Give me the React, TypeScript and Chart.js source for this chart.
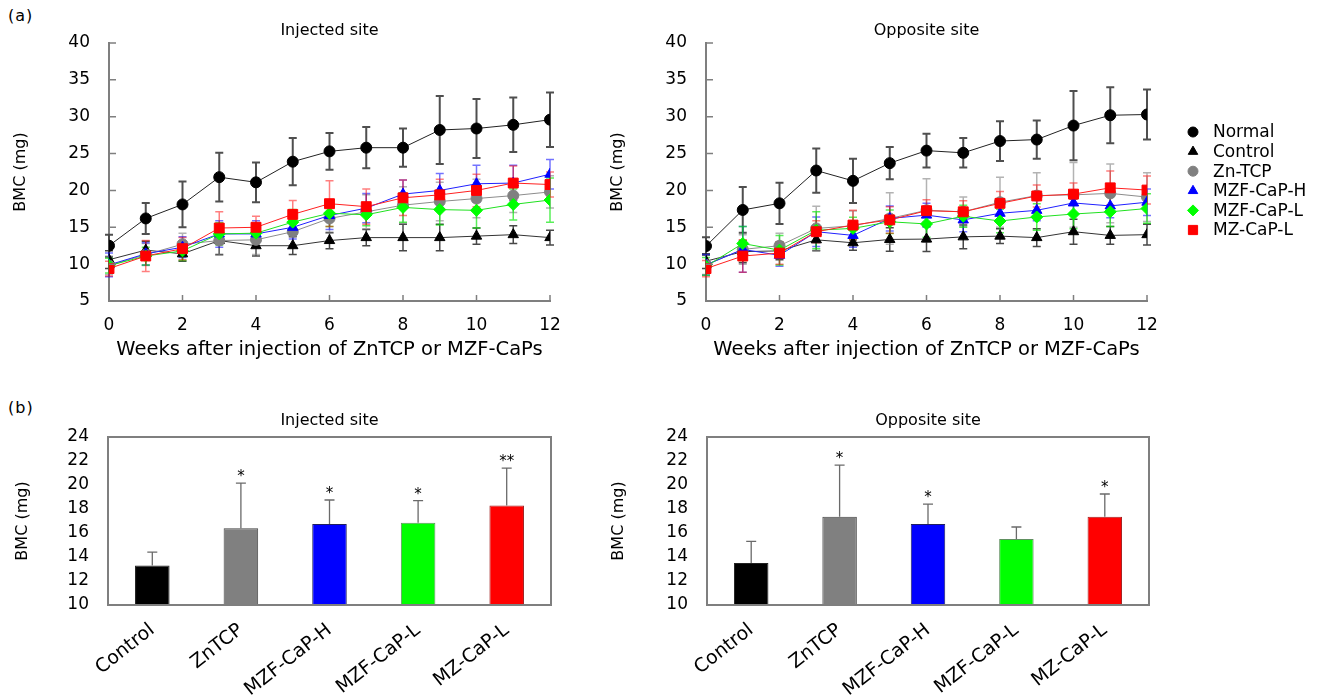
import React, { useEffect, useRef } from 'react';
import { Chart, registerables } from 'chart.js';
import { drawPoint } from 'chart.js/helpers';

Chart.register(...registerables);

const FONT = "'DejaVu Sans', sans-serif";
Chart.defaults.font.family = FONT;
Chart.defaults.color = '#000';

// ---------- data ----------
const weeks = [0, 1, 2, 3, 4, 5, 6, 7, 8, 9, 10, 11, 12];
const xTitle = 'Weeks after injection of ZnTCP or MZF-CaPs';
const yTitle = 'BMC (mg)';

const seriesNames = ['Normal', 'Control', 'Zn-TCP', 'MZF-CaP-H', 'MZF-CaP-L', 'MZ-CaP-L'];

// Injected site
const injNormal = [12.5, 16.2, 18.1, 21.8, 21.1, 23.9, 25.3, 25.8, 25.8, 28.2, 28.4, 28.9, 29.6];
const injNormalErr = [1.5, 2.1, 3.1, 3.3, 2.7, 3.2, 2.5, 2.8, 2.6, 4.6, 4.0, 3.7, 3.7];
const injControl = [10.6, 11.9, 11.4, 13.2, 12.5, 12.5, 13.2, 13.6, 13.6, 13.6, 13.8, 14.0, 13.6];
const injControlErr = [1.2, 1.2, 1.0, 1.9, 1.4, 1.2, 1.1, 1.1, 1.8, 1.8, 1.1, 1.2, 1.0];
const injZnTCP = [9.8, 11.3, 12.7, 13.2, 13.3, 14.4, 16.2, 17.1, 18.0, 18.5, 18.9, 19.3, 19.8];
const injZnTCPErr = [1.2, 1.5, 1.5, 2.0, 2.0, 1.8, 2.0, 2.3, 2.5, 2.6, 2.6, 2.3, 2.2];
const injMZFH = [9.9, 11.4, 12.3, 14.1, 14.1, 15.0, 16.6, 17.6, 19.5, 20.0, 20.9, 21.0, 22.2];
const injMZFHErr = [1.6, 1.5, 1.4, 1.8, 1.8, 1.6, 1.9, 2.0, 1.9, 2.3, 2.5, 2.4, 2.0];
const injMZFL = [9.8, 11.1, 11.8, 14.1, 14.2, 15.7, 16.9, 16.7, 17.7, 17.4, 17.3, 18.1, 18.7];
const injMZFLErr = [1.0, 1.2, 1.3, 1.5, 1.3, 1.7, 1.8, 1.5, 2.0, 2.1, 2.4, 2.1, 3.0];
const injMZL = [9.4, 11.1, 12.1, 14.9, 15.0, 16.75, 18.2, 17.8, 19.0, 19.4, 20.0, 21.0, 20.8];
const injMZLErr = [1.0, 2.1, 1.5, 2.2, 1.5, 1.9, 3.1, 2.4, 2.4, 2.1, 2.2, 2.3, 1.7];

// Opposite site
const oppNormal = [12.45, 17.35, 18.25, 22.7, 21.3, 23.7, 25.4, 25.1, 26.7, 26.9, 28.8, 30.2, 30.3];
const oppNormalErr = [1.2, 3.1, 2.8, 3.0, 3.0, 2.2, 2.3, 2.0, 2.7, 2.6, 4.7, 3.8, 3.4];
const oppControl = [10.4, 11.7, 11.8, 13.3, 12.9, 13.35, 13.4, 13.7, 13.8, 13.6, 14.4, 13.9, 14.0];
const oppControlErr = [1.0, 1.5, 1.2, 1.5, 1.0, 1.6, 1.7, 1.6, 1.0, 1.2, 1.7, 1.2, 1.4];
const oppZnTCP = [9.9, 12.0, 12.5, 14.85, 15.2, 16.2, 17.3, 17.1, 18.4, 19.3, 19.4, 19.6, 19.1];
const oppZnTCPErr = [1.3, 2.0, 1.7, 3.0, 2.0, 3.5, 4.3, 2.0, 3.4, 3.1, 4.4, 4.0, 3.3];
const oppMZFH = [9.9, 12.0, 11.2, 14.4, 13.9, 16.2, 16.65, 16.0, 16.9, 17.3, 18.3, 17.9, 18.4];
const oppMZFHErr = [1.4, 3.1, 1.5, 2.0, 1.6, 1.7, 1.6, 1.6, 1.3, 1.4, 1.6, 1.6, 1.8];
const oppMZFL = [9.7, 12.8, 11.9, 14.6, 14.85, 15.75, 15.45, 16.5, 15.85, 16.4, 16.8, 17.1, 17.55];
const oppMZFLErr = [1.2, 2.3, 2.0, 2.5, 1.5, 1.6, 1.8, 1.5, 1.6, 1.8, 2.0, 2.0, 2.0];
const oppMZL = [9.4, 11.1, 11.5, 14.4, 15.3, 16.0, 17.25, 17.1, 18.25, 19.25, 19.5, 20.35, 20.05];
const oppMZLErr = [1.1, 2.2, 1.5, 1.5, 2.0, 1.8, 1.5, 1.5, 1.6, 1.5, 1.5, 2.3, 1.9];

// Bars (b)
const barGroups = ['Control', 'ZnTCP', 'MZF-CaP-H', 'MZF-CaP-L', 'MZ-CaP-L'];
const injBar = [13.3, 16.4, 16.75, 16.85, 18.3];
const injBarErr = [1.1, 3.75, 2.0, 1.85, 3.1];
const injStars = ['', '*', '*', '*', '**'];
const oppBar = [13.5, 17.35, 16.75, 15.5, 17.35];
const oppBarErr = [1.8, 4.3, 1.65, 1.0, 1.9];
const oppStars = ['', '*', '*', '', '*'];

// ---------- styles ----------
const markerColors = ['#000000', '#000000', '#808080', '#0000ff', '#00ff00', '#ff0000'];
const lineColors = ['#222222', '#333333', '#8c8c8c', '#2020ff', '#20e020', '#ff2020'];
const errColors = ['rgba(70,70,70,0.95)', 'rgba(40,40,40,0.85)', 'rgba(128,128,128,0.6)', 'rgba(0,0,255,0.55)', 'rgba(0,230,0,0.65)', 'rgba(255,0,0,0.5)'];
const pointStyles = ['circle', 'triangle', 'circle', 'triangle', 'rectRot', 'rect'];
const pointRadii = [5.5, 6, 5.5, 6, 6, 7];
const barColors = ['#000000', '#808080', '#0000ff', '#00ff00', '#ff0000'];
const barBorders = ['#222222', '#444444', '#202060', '#609060', '#a02020'];
const AXIS = '#7f7f7f';

// ---------- plugins ----------
const lineErrorPlugin = {
  id: 'lineErrors',
  beforeDatasetsDraw(chart: any) {
    const ctx = chart.ctx;
    const ys = chart.scales.y;
    chart.data.datasets.forEach((ds: any, i: number) => {
      if (!ds.errors) return;
      const meta = chart.getDatasetMeta(i);
      ctx.save();
      ctx.strokeStyle = ds.errColor;
      ctx.lineWidth = ds.errWidth || 1.5;
      meta.data.forEach((pt: any, j: number) => {
        const v = ds.data[j].y;
        const e = ds.errors[j];
        const yt = ys.getPixelForValue(v + e);
        const yb = ys.getPixelForValue(v - e);
        const x = pt.x;
        ctx.beginPath();
        ctx.moveTo(x, yt);
        ctx.lineTo(x, yb);
        ctx.moveTo(x - 4, yt);
        ctx.lineTo(x + 4, yt);
        ctx.moveTo(x - 4, yb);
        ctx.lineTo(x + 4, yb);
        ctx.stroke();
      });
      ctx.restore();
    });
  },
};

const inwardTicksPlugin = {
  id: 'inwardTicks',
  afterDraw(chart: any) {
    const { ctx, chartArea } = chart;
    const xs = chart.scales.x;
    const ys = chart.scales.y;
    ctx.save();
    ctx.strokeStyle = AXIS;
    ctx.lineWidth = 1.5;
    ctx.beginPath();
    xs.ticks.forEach((t: any) => {
      const px = xs.getPixelForValue(t.value);
      ctx.moveTo(px, chartArea.bottom);
      ctx.lineTo(px, chartArea.bottom - 6);
    });
    ys.ticks.forEach((t: any) => {
      const py = ys.getPixelForValue(t.value);
      ctx.moveTo(chartArea.left, py);
      ctx.lineTo(chartArea.left + 7, py);
    });
    ctx.stroke();
    ctx.restore();
  },
};

const legendPlugin = {
  id: 'sideLegend',
  afterDraw(chart: any) {
    const opts = chart.options.plugins.sideLegend;
    if (!opts || !opts.display) return;
    const { ctx, chartArea } = chart;
    const x0 = chartArea.right + opts.offsetX;
    ctx.save();
    chart.data.datasets
      .slice()
      .sort((a: any, b: any) => a.legendIndex - b.legendIndex)
      .forEach((ds: any, k: number) => {
        const y = opts.top + k * opts.rowGap;
        ctx.fillStyle = ds.pointBackgroundColor;
        ctx.strokeStyle = ds.pointBackgroundColor;
        drawPoint(ctx, { pointStyle: ds.pointStyle, radius: ds.pointRadius - 0.5, rotation: 0, borderWidth: 1 } as any, x0, y);
        ctx.fillStyle = '#000';
        ctx.font = `17px ${FONT}`;
        ctx.textBaseline = 'middle';
        ctx.textAlign = 'left';
        ctx.fillText(ds.label, x0 + 20, y + 1);
      });
    ctx.restore();
  },
};

const barExtrasPlugin = {
  id: 'barExtras',
  afterDatasetsDraw(chart: any) {
    const { ctx, chartArea } = chart;
    const ys = chart.scales.y;
    const ds: any = chart.data.datasets[0];
    const meta = chart.getDatasetMeta(0);
    ctx.save();
    ctx.strokeStyle = '#6a6a6a';
    ctx.lineWidth = 1.3;
    meta.data.forEach((bar: any, j: number) => {
      const v = ds.data[j];
      const e = ds.errors[j];
      const yt = ys.getPixelForValue(v + e);
      const yb = ys.getPixelForValue(v);
      ctx.beginPath();
      ctx.moveTo(bar.x, yb);
      ctx.lineTo(bar.x, yt);
      ctx.moveTo(bar.x - 5, yt);
      ctx.lineTo(bar.x + 5, yt);
      ctx.stroke();
      if (ds.stars[j]) {
        ctx.fillStyle = '#000';
        ctx.font = `15px ${FONT}`;
        ctx.textAlign = 'center';
        ctx.textBaseline = 'alphabetic';
        ctx.fillText(ds.stars[j], bar.x, yt - 2);
      }
    });
    ctx.strokeStyle = AXIS;
    ctx.lineWidth = 2;
    ctx.strokeRect(chartArea.left, chartArea.top, chartArea.right - chartArea.left, chartArea.bottom - chartArea.top);
    ctx.restore();
  },
};

// ---------- configs ----------
function lineConfig(title: string, vals: number[][], errs: number[][], o: any) {
  const datasets = vals.map((v, i) => ({
    label: seriesNames[i],
    data: weeks.map((w, j) => ({ x: w, y: v[j] })),
    borderColor: lineColors[i],
    backgroundColor: markerColors[i],
    pointBackgroundColor: markerColors[i],
    pointBorderColor: markerColors[i],
    pointBorderWidth: 1,
    pointStyle: pointStyles[i],
    pointRadius: pointRadii[i],
    borderWidth: 1,
    tension: 0,
    errors: errs[i],
    errColor: errColors[i],
    errWidth: i === 0 ? 2 : 1.5,
    order: 5 - i,
    legendIndex: i,
  }));
  return {
    type: 'line',
    data: { datasets },
    options: {
      responsive: false,
      animation: false,
      layout: { padding: { left: 0, right: o.padRight, top: 0, bottom: 0 } },
      plugins: {
        legend: { display: false },
        tooltip: { enabled: false },
        title: {
          display: true,
          text: title,
          fullSize: false,
          color: '#000',
          font: { size: 16, weight: 'normal' },
          padding: { top: 21.4, bottom: 2.4 },
        },
        sideLegend: o.legend,
      },
      scales: {
        x: {
          type: 'linear',
          min: 0,
          max: 12,
          ticks: { stepSize: 2, color: '#000', font: { size: 17 }, padding: 14 },
          grid: { display: false, drawTicks: false },
          border: { display: true, color: AXIS, width: 2 },
          title: { display: true, text: xTitle, color: '#000', font: { size: 19.5 }, padding: { top: 0, bottom: 8 } },
          afterFit: (s: any) => { s.height = 69; },
        },
        y: {
          min: 5,
          max: 40,
          ticks: { stepSize: 5, color: '#000', font: { size: 17 }, padding: o.tickPad },
          grid: { display: false, drawTicks: false },
          border: { display: true, color: AXIS, width: 2 },
          title: { display: true, text: yTitle, color: '#000', font: { size: 16 }, padding: { top: o.titlePad, bottom: 0 } },
          afterFit: (s: any) => { s.width = o.yWidth; },
        },
      },
    },
    plugins: [lineErrorPlugin, inwardTicksPlugin, legendPlugin],
  };
}

function barConfig(title: string, vals: number[], errs: number[], stars: string[], o: any) {
  return {
    type: 'bar',
    data: {
      labels: barGroups,
      datasets: [
        {
          data: vals,
          backgroundColor: barColors,
          borderColor: barBorders,
          borderWidth: 1,
          barPercentage: 0.39,
          categoryPercentage: 1,
          errors: errs,
          stars,
        },
      ],
    },
    options: {
      responsive: false,
      animation: false,
      layout: { padding: { left: 0, right: o.padRight, top: 0, bottom: 0 } },
      plugins: {
        legend: { display: false },
        tooltip: { enabled: false },
        title: {
          display: true,
          text: title,
          fullSize: false,
          color: '#000',
          font: { size: 16, weight: 'normal' },
          padding: { top: 31.4, bottom: 6.4 },
        },
      },
      scales: {
        x: {
          ticks: { color: '#000', font: { size: 19 }, minRotation: 38, maxRotation: 38, autoSkip: false, padding: 14 },
          grid: { display: false, drawTicks: false },
          border: { display: false },
          afterFit: (s: any) => { s.height = 93; },
        },
        y: {
          min: 10,
          max: 24,
          ticks: { stepSize: 2, color: '#000', font: { size: 17 }, padding: 19 },
          grid: { display: false, drawTicks: false },
          border: { display: false },
          title: { display: true, text: yTitle, color: '#000', font: { size: 16 }, padding: { top: o.titlePad, bottom: 0 } },
          afterFit: (s: any) => { s.width = o.yWidth; },
        },
      },
    },
    plugins: [barExtrasPlugin],
  };
}

function ChartBox({ left, top, width, height, make }: any) {
  const ref = useRef<HTMLCanvasElement>(null);
  useEffect(() => {
    const chart = new Chart(ref.current as HTMLCanvasElement, make() as any);
    return () => chart.destroy();
  }, []);
  return (
    <div style={{ position: 'absolute', left, top, width, height }}>
      <canvas ref={ref} width={width} height={height} style={{ width, height, display: 'block' }} />
    </div>
  );
}

export default function App() {
  const label: React.CSSProperties = { position: 'absolute', fontFamily: FONT, fontSize: 16, color: '#000', lineHeight: '18px', letterSpacing: 1 };
  return (
    <div style={{ position: 'fixed', left: 0, top: 0, width: 1335, height: 698, background: '#fff', overflow: 'hidden' }}>
      <div style={{ ...label, left: 8, top: 7 }}>(a)</div>
      <div style={{ ...label, left: 8, top: 399 }}>(b)</div>
      <ChartBox
        left={0}
        top={0}
        width={580}
        height={370}
        make={() =>
          lineConfig('Injected site',
            [injNormal, injControl, injZnTCP, injMZFH, injMZFL, injMZL],
            [injNormalErr, injControlErr, injZnTCPErr, injMZFHErr, injMZFLErr, injMZLErr],
            { padRight: 30, yWidth: 109, tickPad: 19, titlePad: 11, legend: { display: false } })
        }
      />
      <ChartBox
        left={600}
        top={0}
        width={735}
        height={370}
        make={() =>
          lineConfig('Opposite site',
            [oppNormal, oppControl, oppZnTCP, oppMZFH, oppMZFL, oppMZL],
            [oppNormalErr, oppControlErr, oppZnTCPErr, oppMZFHErr, oppMZFLErr, oppMZLErr],
            { padRight: 188, yWidth: 106, tickPad: 19, titlePad: 8, legend: { display: true, offsetX: 46, top: 132, rowGap: 19.6 } })
        }
      />
      <ChartBox
        left={0}
        top={380}
        width={580}
        height={318}
        make={() => barConfig('Injected site', injBar, injBarErr, injStars, { padRight: 29, yWidth: 108, titlePad: 13 })}
      />
      <ChartBox
        left={600}
        top={380}
        width={580}
        height={318}
        make={() => barConfig('Opposite site', oppBar, oppBarErr, oppStars, { padRight: 31, yWidth: 107, titlePad: 9 })}
      />
    </div>
  );
}
